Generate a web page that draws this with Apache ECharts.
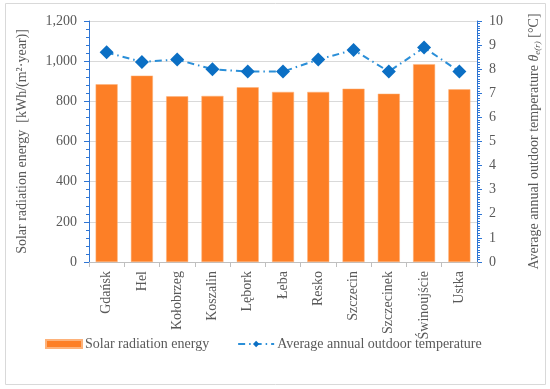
<!DOCTYPE html>
<html><head><meta charset="utf-8">
<script src="https://cdn.jsdelivr.net/npm/echarts@6/dist/echarts.min.js"></script>
<style>html,body{margin:0;padding:0;background:#fff}#c{width:550px;height:389px}</style>
</head><body><div id="c"></div>
<script>
const categories = ['Gdańsk','Hel','Kołobrzeg','Koszalin','Lębork','Łeba','Resko','Szczecin','Szczecinek','Świnoujście','Ustka'];
const solarEnergy = [885, 928, 825, 827, 870, 847, 847, 863, 838, 985, 860];
const avgTemp = [8.7, 8.3, 8.4, 8.0, 7.9, 7.9, 8.4, 8.8, 7.9, 8.9, 7.9];
const leftTicks = [0, 1200, 200];
const rightTicks = [0, 10, 1];

const FONT = 'Liberation Serif';
const GRAY = '#595959';
const chart = echarts.init(document.getElementById('c'));
chart.setOption({
  animation: false,
  textStyle: {fontFamily: FONT},
  graphic: [{type:'rect', shape:{x:5.5,y:3.5,width:540,height:381}, style:{fill:'none',stroke:'#d9d9d9',lineWidth:1}, silent:true}],
  grid: {left: 89, right: 70, top: 21, bottom: 127},
  legend: {
    bottom: 33, left: 40, itemWidth: 36, itemHeight: 8, itemGap: 28,
    textStyle: {fontFamily: FONT, fontSize: 14, color: GRAY, padding: [0,0,0,-2]},
    data: [{name:'Solar radiation energy', icon:'rect'}, {name:'Average annual outdoor temperature'}]
  },
  xAxis: {
    type: 'category', data: categories,
    axisLine: {lineStyle: {color: '#bfbfbf'}},
    axisTick: {show: true, length: 5, lineStyle: {color: '#bfbfbf'}},
    axisLabel: {rotate: 90, fontFamily: FONT, fontSize: 14, color: GRAY, margin: 9}
  },
  yAxis: [{
    type: 'value', min: leftTicks[0], max: leftTicks[1], interval: leftTicks[2],
    name: 'Solar radiation energy  [kWh/(m²·year)]', nameLocation: 'middle', nameGap: 60,
    nameTextStyle: {fontFamily: FONT, fontSize: 14, color: GRAY},
    axisLine: {show: true, lineStyle: {color: '#2e75d4'}},
    axisTick: {show: true, length: 5, lineStyle: {color: '#2e75d4'}},
    minorTick: {show: true, splitNumber: 5, length: 3, lineStyle: {color: '#2e75d4'}},
    splitLine: {lineStyle: {color: '#d9d9d9'}},
    axisLabel: {fontFamily: FONT, fontSize: 14, color: GRAY, margin: 12,
      formatter: v => v.toLocaleString('en-US')}
  }, {
    type: 'value', min: rightTicks[0], max: rightTicks[1], interval: rightTicks[2],
    position: 'right',
    name: '{n|Average annual outdoor temperature }{i|θ}{s|e(r)}{n| [°C]}', nameLocation: 'middle', nameGap: 50,
    nameTextStyle: {fontFamily: FONT, fontSize: 14, color: GRAY,
      rich: {n:{fontFamily: FONT, fontSize: 14, color: GRAY}, i:{fontFamily: FONT, fontSize: 14, fontStyle:'italic', color: GRAY}, s:{fontFamily: FONT, fontSize: 9, fontStyle:'italic', color: GRAY, verticalAlign:'bottom', padding:[6,0,0,0]}}},
    axisLine: {show: true, lineStyle: {color: '#2e75d4'}},
    axisTick: {show: true, length: 5, lineStyle: {color: '#2e75d4'}},
    minorTick: {show: true, splitNumber: 10, length: 3, lineStyle: {color: '#2e75d4'}},
    splitLine: {show: false},
    axisLabel: {fontFamily: FONT, fontSize: 14, color: GRAY, margin: 12}
  }],
  series: [{
    name: 'Solar radiation energy', type: 'bar', data: solarEnergy, barWidth: 22,
    itemStyle: {color: '#fd7f26', borderColor: '#fdb27a', borderWidth: 0.5}
  }, {
    name: 'Average annual outdoor temperature', type: 'line', yAxisIndex: 1, data: avgTemp,
    symbol: 'diamond', symbolSize: 14,
    lineStyle: {color: '#2b8fd8', width: 2, type: [7, 4, 1.5, 4]},
    itemStyle: {color: '#0b6fc4'}
  }]
});
</script></body></html>
